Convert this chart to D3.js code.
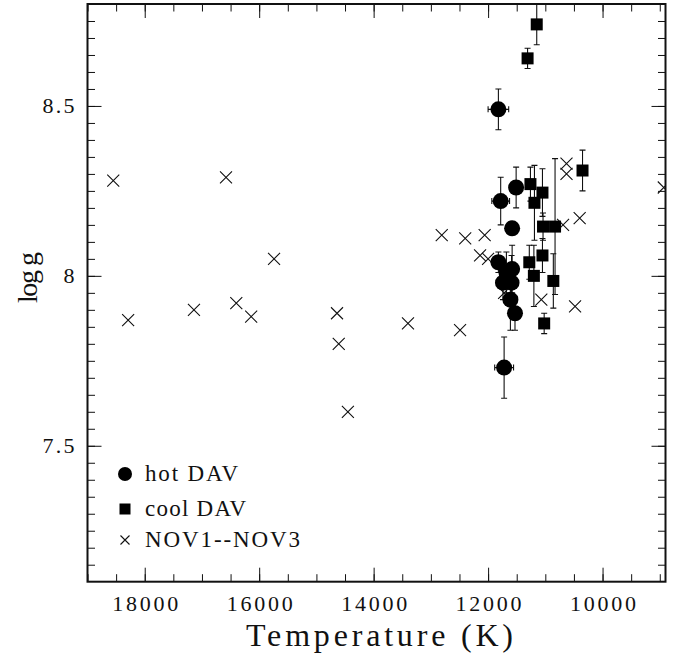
<!DOCTYPE html>
<html>
<head>
<meta charset="utf-8">
<script src="https://cdn.jsdelivr.net/npm/d3@7"></script>
<style>
  body { margin: 0; background: #fff; }
  text { font-family: "Liberation Serif", "Times New Roman", serif; fill: #111; }
</style>
</head>
<body>
<div class="chart"></div>
<script>
// hot DAV (filled circles)
var hotTemp = [11820, 11780, 11510, 11580, 11820, 11680, 11580, 11740, 11590, 11610, 11530, 11720];
var hotLogg = [8.49, 8.22, 8.26, 8.14, 8.04, 8.01, 8.02, 7.98, 7.98, 7.93, 7.89, 7.73];
var hotTempErr = [180, 155, 0, 0, 0, 0, 0, 0, 0, 0, 0, 165];
var hotLoggErr = [0.06, 0.07, 0.06, 0, 0.03, 0.06, 0.07, 0.05, 0.08, 0.09, 0.05, 0.09];

// cool DAV (filled squares)
var coolTemp = [11150, 11310, 10350, 11260, 11050, 11190, 11040, 10830, 11050, 11280, 11200, 10860, 11020];
var coolLogg = [8.74, 8.64, 8.31, 8.27, 8.245, 8.215, 8.145, 8.145, 8.06, 8.04, 8.00, 7.985, 7.86];
var coolLoggErr = [0.06, 0.03, 0.06, 0.05, 0.07, 0.11, 0.04, 0.2, 0.05, 0.05, 0.09, 0.08, 0.03];

// NOV1--NOV3 (crosses)
var novTemp = [18550, 18290, 17140, 16580, 16400, 16140, 15740, 14640, 14610, 14450, 13400, 12490, 12810,
  12400, 12060, 12140, 12000, 11720, 11070, 10480, 10630, 10630, 10400, 10690, 8930];
var novLogg = [8.28, 7.87, 7.90, 8.29, 7.92, 7.88, 8.05, 7.89, 7.80, 7.60, 7.86, 7.84, 8.12,
  8.11, 8.12, 8.06, 8.05, 7.95, 7.93, 7.91, 8.33, 8.30, 8.17, 8.15, 8.26];

var xTicks = [18000, 16000, 14000, 12000, 10000];
var yTicks = [7.5, 8, 8.5];
var legendLabels = ["hot DAV", "cool DAV", "NOV1--NOV3"];

var svgWidth = 684;
var svgHeight = 657;

var margin = { top: 4, right: 18.5, bottom: 75.3, left: 87.5 };

var width = svgWidth - margin.left - margin.right;
var height = svgHeight - margin.top - margin.bottom;

var svg = d3.select(".chart")
  .append("svg")
  .attr("width", svgWidth)
  .attr("height", svgHeight);

var chartGroup = svg.append("g")
  .attr("transform", `translate(${margin.left}, ${margin.top})`);

// scales (temperature runs backwards)
var x = d3.scaleLinear().domain([19000, 8900]).range([0, width]);
var y = d3.scaleLinear().domain([7.1, 8.8]).range([height, 0]);

var minorX = d3.range(9000, 19001, 500);
var minorY = d3.range(7.15, 8.8, 0.05).map(d => +d.toFixed(2));

svg.append("defs").append("clipPath").attr("id", "clip")
  .append("rect").attr("width", width).attr("height", height);

// axes: minor + major ticks on all four sides, pointing inward
function styleAxis(g) {
  g.select(".domain").remove();
  g.selectAll("line").attr("stroke", "#111").attr("stroke-width", 1);
}

chartGroup.append("g").attr("transform", `translate(0, ${height})`)
  .call(d3.axisBottom(x).tickValues(minorX).tickSize(-7.5).tickFormat(""))
  .call(styleAxis);
chartGroup.append("g").attr("transform", `translate(0, ${height})`)
  .call(d3.axisBottom(x).tickValues(xTicks).tickSize(-14).tickPadding(14).tickFormat(d3.format("d")))
  .call(styleAxis)
  .selectAll("text")
  .attr("font-size", 22).attr("font-family", "Liberation Serif").attr("fill", "#111")
  .attr("textLength", 66).attr("lengthAdjust", "spacing");

chartGroup.append("g")
  .call(d3.axisTop(x).tickValues(minorX).tickSize(-7.5).tickFormat(""))
  .call(styleAxis);
chartGroup.append("g")
  .call(d3.axisTop(x).tickValues(xTicks).tickSize(-14).tickFormat(""))
  .call(styleAxis);

chartGroup.append("g")
  .call(d3.axisLeft(y).tickValues(minorY).tickSize(-7.5).tickFormat(""))
  .call(styleAxis);
chartGroup.append("g")
  .call(d3.axisLeft(y).tickValues(yTicks).tickSize(-14).tickPadding(13).tickFormat(d => d))
  .call(styleAxis)
  .selectAll("text")
  .attr("font-size", 22).attr("font-family", "Liberation Serif").attr("fill", "#111")
  .each(function(d) {
    if (String(d).length > 1) d3.select(this).attr("textLength", 32).attr("lengthAdjust", "spacing");
  });

chartGroup.append("g").attr("transform", `translate(${width}, 0)`)
  .call(d3.axisRight(y).tickValues(minorY).tickSize(-7.5).tickFormat(""))
  .call(styleAxis);
chartGroup.append("g").attr("transform", `translate(${width}, 0)`)
  .call(d3.axisRight(y).tickValues(yTicks).tickSize(-14).tickFormat(""))
  .call(styleAxis);

// frame
chartGroup.append("rect")
  .attr("width", width).attr("height", height)
  .attr("fill", "none").attr("stroke", "#111").attr("stroke-width", 2);

var plot = chartGroup.append("g").attr("clip-path", "url(#clip)");

// crosses
function crossPath(s) {
  return `M${-s},${-s}L${s},${s}M${-s},${s}L${s},${-s}`;
}

plot.selectAll(".nov")
  .data(novTemp)
  .enter()
  .append("path")
  .attr("class", "nov")
  .attr("transform", (d, i) => `translate(${x(d)}, ${y(novLogg[i])})`)
  .attr("d", crossPath(6))
  .attr("stroke", "#111").attr("stroke-width", 1.1).attr("fill", "none");

// error bars
var cap = 3;
function drawErrY(sel, temps, loggs, errs) {
  temps.forEach(function(t, i) {
    if (!errs[i]) return;
    var cx = x(t), y0 = y(loggs[i] - errs[i]), y1 = y(loggs[i] + errs[i]);
    sel.append("path")
      .attr("d", `M${cx},${y0}V${y1}M${cx - cap},${y0}H${cx + cap}M${cx - cap},${y1}H${cx + cap}`)
      .attr("stroke", "#111").attr("stroke-width", 1.1).attr("fill", "none");
  });
}
function drawErrX(sel, temps, loggs, errs) {
  temps.forEach(function(t, i) {
    if (!errs[i]) return;
    var cy = y(loggs[i]), x0 = x(t - errs[i]), x1 = x(t + errs[i]);
    sel.append("path")
      .attr("d", `M${x0},${cy}H${x1}M${x0},${cy - cap}V${cy + cap}M${x1},${cy - cap}V${cy + cap}`)
      .attr("stroke", "#111").attr("stroke-width", 1.1).attr("fill", "none");
  });
}

drawErrY(plot, coolTemp, coolLogg, coolLoggErr);
drawErrY(plot, hotTemp, hotLogg, hotLoggErr);
drawErrX(plot, hotTemp, hotLogg, hotTempErr);

// squares
plot.selectAll(".cool")
  .data(coolTemp)
  .enter()
  .append("rect")
  .attr("class", "cool")
  .attr("x", d => x(d) - 6)
  .attr("y", (d, i) => y(coolLogg[i]) - 6)
  .attr("width", 12).attr("height", 12)
  .attr("fill", "#000");

// circles
plot.selectAll(".hot")
  .data(hotTemp)
  .enter()
  .append("circle")
  .attr("class", "hot")
  .attr("cx", d => x(d))
  .attr("cy", (d, i) => y(hotLogg[i]))
  .attr("r", 8)
  .attr("fill", "#000");

// legend
var legend = svg.append("g").attr("transform", "translate(125, 474)");
legend.append("circle").attr("cx", 0).attr("cy", 0).attr("r", 7).attr("fill", "#000");
legend.append("rect").attr("x", -5.5).attr("y", 29.5).attr("width", 11).attr("height", 11).attr("fill", "#000");
legend.append("path").attr("transform", "translate(0, 66)").attr("d", crossPath(4.5))
  .attr("stroke", "#111").attr("stroke-width", 1.1).attr("fill", "none");

var legendWidths = [93, 101, 155];
legendLabels.forEach(function(lab, i) {
  legend.append("text")
    .attr("x", 20)
    .attr("y", [0, 35, 66][i] + 7)
    .attr("font-size", 23)
    .attr("textLength", legendWidths[i])
    .attr("lengthAdjust", "spacing")
    .text(lab);
});

// axis titles
svg.append("text")
  .attr("x", 246)
  .attr("y", 646)
  .attr("font-size", 32)
  .attr("textLength", 267)
  .attr("lengthAdjust", "spacing")
  .text("Temperature (K)");

svg.append("text")
  .attr("transform", "translate(37, 303) rotate(-90)")
  .attr("font-size", 28)
  .attr("textLength", 51)
  .attr("lengthAdjust", "spacing")
  .text("log g");
</script>
</body>
</html>
